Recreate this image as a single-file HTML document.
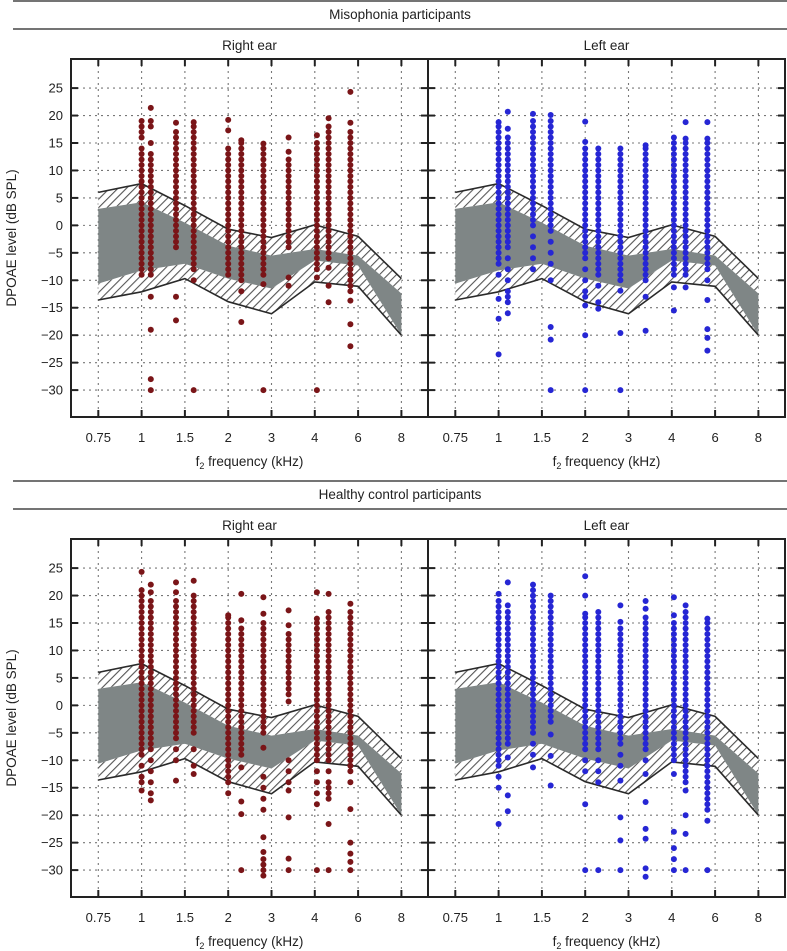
<!DOCTYPE html>
<html><head><meta charset="utf-8"><style>
html,body{margin:0;padding:0;background:#fff;}
svg{display:block;font-family:"Liberation Sans",sans-serif;}
</style></head><body>
<svg id="chart" width="787" height="951" viewBox="0 0 787 951">
<defs>
<pattern id="hatch" patternUnits="userSpaceOnUse" width="6" height="6" patternTransform="rotate(45)">
<rect width="6" height="6" fill="#fff"/>
<line x1="0" y1="0" x2="0" y2="6" stroke="#555" stroke-width="2.2"/>
</pattern>
</defs>
</svg>
<script>
const xTicks = [0.75, 1, 1.5, 2, 3, 4, 6, 8];
const xTickLabels = ["0.75","1","1.5","2","3","4","6","8"];
const yTicks = [25,20,15,10,5,0,-5,-10,-15,-20,-25,-30];
const colFreqs = [1.0,1.09,1.38,1.59,2.0,2.26,2.78,3.36,4.08,4.55,5.58];
const bandFreq = [0.75,1,1.5,2,3,4,6,8];
const upperOuter = [6.0,7.6,3.6,-0.7,-2.2,0.1,-2.0,-9.7];
const grayTop = [3.0,4.2,0.5,-3.7,-5.5,-4.3,-5.5,-12.4];
const grayBottom = [-10.6,-8.2,-7.0,-9.7,-11.5,-6.4,-7.3,-20];
const lowerOuter = [-13.6,-12.1,-9.7,-13.9,-16.1,-10.3,-11.1,-20];

const misoRight = [
[19,18,17,16,14,13,12,11,10,9,8,7,6,5,4,3,2,1,0,-1,-2,-3,-4,-5,-6,-7,-8,-9],
[21.4,19,18,15,13,12,11,10,9,8,7,6,5,4,3,2,1,0,-1,-2,-3,-4,-5,-6,-7,-8,-9,-13,-19,-28,-30],
[18.7,17,16,15,14,13,12,11,10,9,8,7,6,5,4,3,2,1,0,-1,-2,-3,-4,-13,-17.3],
[18.8,18,17,16,15,14,13,12,11,10,9,8,7,6,5,4,3,2,1,0,-1,-2,-3,-4,-5,-6,-7,-8,-10,-30],
[19.2,17.3,14,13,12,11,10,9,8,7,6,5,4,3,2,1,0,-1,-2,-3,-4,-5,-6,-7,-8,-9],
[15.5,15,14,13,12,11,10,9,8,7,6,5,4,3,2,1,0,-1,-2,-3,-4,-5,-6,-7,-8,-9,-10,-12,-17.6],
[14.9,14,13,12,11,10,9,8,7,6,5,4,3,2,1,0,-1,-2,-3,-4,-5,-6,-7,-8,-9,-10.7,-30],
[16,13.4,12,11,10,9,8,7,6,5,4,3,2,1,0,-1,-2,-3,-4,-9.5,-11],
[16.4,15,14,13,12,11,10,9,8,7,6,5,4,3,2,1,0,-1,-2,-3,-4,-5,-6,-7,-8,-9.5,-30],
[19.5,18,17,16,15,14,13,12,11,10,9,8,7,6,5,4,3,2,1,0,-1,-2,-3,-4,-5,-6,-7.7,-11,-14],
[24.3,18.7,17,16,15,14,13,12,11,10,9,8,7,6,5,4,3,2,1,0,-1,-2,-3,-4,-5,-6,-7,-8,-9,-10,-11,-12,-13.7,-18,-22]
];
const misoLeft = [
[18.8,18,17,16,15,14,13,12,11,10,9,8,7,6,5,4,3,2,1,0,-1,-2,-3,-4,-5,-6,-7,-9,-13.4,-17,-23.5],
[20.7,17.6,16,15,14,13,12,11,10,9,8,7,6,5,4,3,2,1,0,-1,-2,-3,-4,-6,-8,-10,-12,-13,-14,-16],
[20.3,19,18,17,16,15,14,13,12,11,10,9,8,7,6,5,4,3,2,1,0,-2,-4,-6,-8],
[20.1,19,18,17,16,15,14,13,12,11,10,9,8,7,6,5,4,3,2,1,0,-1,-3,-5,-7,-10,-18.5,-20.8,-30],
[18.9,15.2,14,13,12,11,10,9,8,7,6,5,4,3,2,1,0,-1,-2,-3,-4,-5,-6,-8,-10,-12,-13,-14.6,-20,-30],
[14,13,12,11,10,9,8,7,6,5,4,3,2,1,0,-1,-2,-3,-4,-5,-6,-7,-8,-9,-11,-14,-15.2],
[14,13,12,11,10,9,8,7,6,5,4,3,2,1,0,-1,-2,-3,-4,-5,-6,-7,-8,-9,-10,-11.9,-19.6,-30],
[14.6,14,13,12,11,10,9,8,7,6,5,4,3,2,1,0,-1,-2,-3,-4,-5,-6,-7,-8,-9,-10,-13,-19.2],
[16,15,14,13,12,11,10,9,8,7,6,5,4,3,2,1,0,-1,-2,-3,-4,-5,-6,-7,-8,-9,-11.3,-15.5],
[18.8,15.8,15,14,13,12,11,10,9,8,7,6,5,4,3,2,1,0,-1,-2,-3,-4,-5,-6,-7,-8,-9,-11.3],
[18.8,15.8,15,14,13,12,11,10,9,8,7,6,5,4,3,2,1,0,-1,-2,-3,-4,-5,-6,-7,-8,-10,-13.6,-18.9,-20.5,-22.8]
];
const ctrlRight = [
[24.3,21,20,19,18,17,16,15,14,13,12,11,10,9,8,7,6,5,4,3,2,1,0,-1,-2,-3,-4,-5,-6,-7,-8,-9,-11,-13,-14,-15.5],
[22,20.6,19,18,17,16,15,14,13,12,11,10,9,8,7,6,5,4,3,2,1,0,-1,-2,-3,-4,-5,-6,-7,-8,-10,-12,-14,-16,-17.3],
[22.4,20.6,19,18,17,16,15,14,13,12,11,10,9,8,7,6,5,4,3,2,1,0,-1,-2,-3,-4,-5,-6,-8,-10,-13.7],
[22.7,20,19,18,17,16,15,14,13,12,11,10,9,8,7,6,5,4,3,2,1,0,-1,-2,-3,-4,-5,-8,-11,-12.5],
[16.4,16,15,14,13,12,11,10,9,8,7,6,5,4,3,2,1,0,-1,-2,-3,-4,-5,-6,-7,-8,-9,-10,-11,-12,-13,-14,-16],
[20.3,15.5,14,13,12,11,10,9,8,7,6,5,4,3,2,1,0,-1,-2,-3,-4,-5,-6,-7,-8,-9,-11.3,-17.5,-19.8,-30],
[19.7,16.7,15,14,13,12,11,10,9,8,7,6,5,4,3,2,1,0,-1,-2,-3,-4,-5,-7.7,-13,-15,-17,-19,-24,-26.7,-28,-29,-30,-31],
[17.3,14.6,13,12,11,10,9,8,7,6,5,4,3,2,0.7,-10,-12,-14,-15.5,-20.4,-27.9,-30],
[20.6,15.8,15,14,13,12,11,10,9,8,7,6,5,4,3,2,1,0,-1,-2,-3,-4,-5,-6,-7,-8,-9,-10,-12,-14,-16,-18,-30],
[20.3,17,16,15,14,13,12,11,10,9,8,7,6,5,4,3,2,1,0,-1,-2,-3,-4,-5,-6,-7,-8,-9,-10,-12,-14,-15,-16,-17,-21.6,-30],
[18.5,17,16,15,14,13,12,11,10,9,8,7,6,5,4,3,2,1,0,-1,-2,-3,-4,-5,-6,-7,-8,-9,-10,-11,-12,-14,-18.9,-25,-27,-28.5,-30]
];
const ctrlLeft = [
[20.3,19,18,17,16,15,14,13,12,11,10,9,8,7,6,5,4,3,2,1,0,-1,-2,-3,-4,-5,-6,-7,-8,-9,-10,-11,-13,-15,-21.6],
[22.4,18.2,17,16,15,14,13,12,11,10,9,8,7,6,5,4,3,2,1,0,-1,-2,-3,-4,-5,-6,-7,-9.5,-16.4,-19.3],
[22,21,20,19,18,17,16,15,14,13,12,11,10,9,8,7,6,5,4,3,2,1,0,-1,-2,-3,-4,-5,-7,-9,-11.3],
[20,19,18,17,16,15,14,13,12,11,10,9,8,7,6,5,4,3,2,1,0,-1,-2,-3,-5.3,-9.2,-14.6],
[23.5,20,16.7,16,15,14,13,12,11,10,9,8,7,6,5,4,3,2,1,0,-1,-2,-3,-4,-5,-6,-7,-8,-10,-12,-18,-30],
[17,16,15,14,13,12,11,10,9,8,7,6,5,4,3,2,1,0,-1,-2,-3,-4,-5,-6,-7,-8,-10,-12,-14,-30],
[18.2,15.2,14,13,12,11,10,9,8,7,6,5,4,3,2,1,0,-1,-2,-3,-4,-5,-6,-7,-9,-11,-13.7,-20.4,-24.6,-30],
[19,17.6,16,15,14,13,12,11,10,9,8,7,6,5,4,3,2,1,0,-1,-2,-3,-4,-5,-6,-7,-8,-10,-12.5,-17.6,-22.5,-24.3,-29.7,-31.2],
[19.7,16.4,15,14,13,12,11,10,9,8,7,6,5,4,3,2,1,0,-1,-2,-3,-4,-5,-6,-7,-8,-9,-10,-12.5,-23,-26,-28,-30],
[18.2,17,16,15,14,13,12,11,10,9,8,7,6,5,4,3,2,1,0,-1,-2,-3,-4,-5,-6,-7,-8,-9,-10,-11,-12,-13,-14,-15.5,-20,-23.4,-30],
[15.8,15,14,13,12,11,10,9,8,7,6,5,4,3,2,1,0,-1,-2,-3,-4,-5,-6,-7,-8,-9,-10,-11,-12,-13,-14,-15,-16,-17,-18,-19,-21,-30]
];

const NS = "http://www.w3.org/2000/svg";
const svg = document.getElementById("chart");
function mk(tag, attrs, parent) {
  const e = document.createElementNS(NS, tag);
  for (const k in attrs) e.setAttribute(k, attrs[k]);
  (parent || svg).appendChild(e);
  return e;
}
const PW = 357, PH = 358, Y_MAX = 30.3, Y_MIN = -34.9;
function makeX(ox) {
  return function (f) {
    const lf = Math.log(f);
    let i = 0;
    while (i < xTicks.length - 2 && lf > Math.log(xTicks[i + 1])) i++;
    const a = Math.log(xTicks[i]), b = Math.log(xTicks[i + 1]);
    const t = (lf - a) / (b - a);
    return ox + 27.3 + (i + t) * 43.3;
  };
}
function makeY(oy) {
  return function (v) { return oy + (Y_MAX - v) / (Y_MAX - Y_MIN) * PH; };
}

function sectionHeader(y0, text, name) {
  const l1 = mk("line", {x1: 13, x2: 787, y1: y0 + 1, y2: y0 + 1, stroke: "#222", "stroke-width": 1.3});
  
  
  const t = mk("text", {x: 400, y: y0 + 19, "text-anchor": "middle", "font-size": 13.5, fill: "#222"});
  t.textContent = text;
  
  
  const l2 = mk("line", {x1: 13, x2: 787, y1: y0 + 29, y2: y0 + 29, stroke: "#222", "stroke-width": 1.3});
  
  
}

function drawPanel(ox, oy, title, cols, color, name, showY) {
  const g = mk("g", {});
  
  
  const X = makeX(ox), Y = makeY(oy);
  const tt = mk("text", {x: ox + PW / 2, y: oy - 9, "text-anchor": "middle", "font-size": 13.5, fill: "#222"}, g);
  tt.textContent = title;
  
  
  // grid
  yTicks.forEach(v => {
    const l = mk("line", {x1: ox, x2: ox + PW, y1: Y(v), y2: Y(v), stroke: "#777", "stroke-width": 1.1, "stroke-dasharray": "2,4"}, g);
    
    
  });
  xTicks.forEach(f => {
    const l = mk("line", {x1: X(f), x2: X(f), y1: oy, y2: oy + PH, stroke: "#777", "stroke-width": 1.1, "stroke-dasharray": "2,4"}, g);
    
    
  });
  // bands
  const pts = (fs, vs) => fs.map((f, i) => X(f).toFixed(1) + "," + Y(vs[i]).toFixed(1));
  const up = mk("polygon", {points: pts(bandFreq, upperOuter).concat(pts(bandFreq, grayTop).reverse()).join(" "), fill: "url(#hatch)"}, g);
  
  
  const lo = mk("polygon", {points: pts(bandFreq, grayBottom).concat(pts(bandFreq, lowerOuter).reverse()).join(" "), fill: "url(#hatch)"}, g);
  
  
  const gr = mk("polygon", {points: pts(bandFreq, grayTop).concat(pts(bandFreq, grayBottom).reverse()).join(" "), fill: "#7f8686"}, g);
  
  
  const uo = mk("polyline", {points: pts(bandFreq, upperOuter).join(" "), fill: "none", stroke: "#2a2a2a", "stroke-width": 1.6}, g);
  
  
  const lol = mk("polyline", {points: pts(bandFreq, lowerOuter).join(" "), fill: "none", stroke: "#2a2a2a", "stroke-width": 1.6}, g);
  
  
  // dots
  cols.forEach((vals, ci) => {
    vals.forEach(v => {
      const c = mk("circle", {cx: X(colFreqs[ci]).toFixed(1), cy: Y(v).toFixed(1), r: 3, fill: color}, g);
      
      
    });
  });
  // frame
  const fr = mk("rect", {x: ox, y: oy, width: PW, height: PH, fill: "none", stroke: "#222", "stroke-width": 2}, g);
  
  
  // ticks
  yTicks.forEach(v => {
    mk("line", {x1: ox, x2: ox + 7, y1: Y(v), y2: Y(v), stroke: "#222", "stroke-width": 2}, g);
    mk("line", {x1: ox + PW - 7, x2: ox + PW, y1: Y(v), y2: Y(v), stroke: "#222", "stroke-width": 2}, g);
    if (showY) {
      const t = mk("text", {x: ox - 8, y: Y(v) + 4.5, "text-anchor": "end", "font-size": 13, fill: "#222"}, g);
      t.textContent = v < 0 ? "\u2212" + (-v) : String(v);
      
      
    }
  });
  xTicks.forEach((f, i) => {
    mk("line", {x1: X(f), x2: X(f), y1: oy, y2: oy + 7, stroke: "#222", "stroke-width": 2}, g);
    mk("line", {x1: X(f), x2: X(f), y1: oy + PH - 7, y2: oy + PH, stroke: "#222", "stroke-width": 2}, g);
    const t = mk("text", {x: X(f), y: oy + PH + 25, "text-anchor": "middle", "font-size": 13, fill: "#222"}, g);
    t.textContent = xTickLabels[i];
    
    
  });
  const xl = mk("text", {x: ox + PW / 2, y: oy + PH + 49, "text-anchor": "middle", "font-size": 13.5, fill: "#222"}, g);
  xl.innerHTML = 'f<tspan font-size="9" dy="3">2</tspan><tspan dy="-3"> frequency (kHz)</tspan>';
  
  
  if (showY) {
    const cy = oy + PH / 2;
    const yl = mk("text", {x: 16, y: cy, "text-anchor": "middle", "font-size": 13.5, fill: "#222", transform: "rotate(-90 16 " + cy + ")"}, g);
    yl.textContent = "DPOAE level (dB SPL)";
    
    
  }
}

sectionHeader(0, "Misophonia participants", "misophonia-section");
sectionHeader(480, "Healthy control participants", "control-section");
drawPanel(71, 59, "Right ear", misoRight, "#7a1518", "misophonia-right-ear-panel", true);
drawPanel(428, 59, "Left ear", misoLeft, "#2626d4", "misophonia-left-ear-panel", false);
drawPanel(71, 539, "Right ear", ctrlRight, "#7a1518", "control-right-ear-panel", true);
drawPanel(428, 539, "Left ear", ctrlLeft, "#2626d4", "control-left-ear-panel", false);
</script>
</body></html>
